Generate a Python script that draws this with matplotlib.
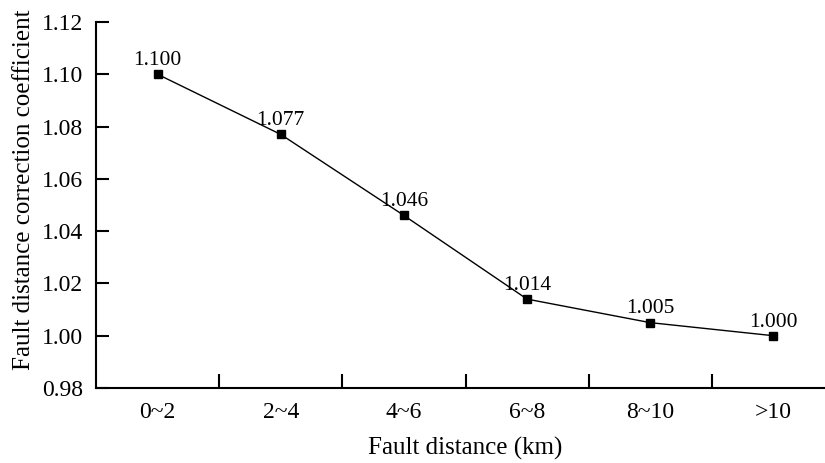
import matplotlib
matplotlib.use("Agg")
import matplotlib.pyplot as plt
from matplotlib.ticker import FixedLocator

categories = ["0~2", "2~4", "4~6", "6~8", "8~10", ">10"]
values = [1.100, 1.077, 1.046, 1.014, 1.005, 1.000]
value_labels = ["1.100", "1.077", "1.046", "1.014", "1.005", "1.000"]
yticks = [0.98, 1.00, 1.02, 1.04, 1.06, 1.08, 1.10, 1.12]
ytick_labels = ["0.98", "1.00", "1.02", "1.04", "1.06", "1.08", "1.10", "1.12"]

plt.rcParams['font.family'] = ['Liberation Serif', 'DejaVu Serif']

W, H = 825, 463
fig = plt.figure(figsize=(W / 100, H / 100), dpi=100)
left, right, top, bottom = 96, 835, 22, 388
ax = fig.add_axes([left / W, (H - bottom) / H, (right - left) / W, (bottom - top) / H])

x = list(range(len(categories)))
ax.plot(x, values, color='black', lw=1.0, marker='s', markersize=6,
        markerfacecolor='black', markeredgecolor='black')
for xi, v, lab in zip(x, values, value_labels):
    ax.annotate(lab, (xi, v), xytext=(0, 3), textcoords='offset points',
                ha='center', va='bottom', fontsize=15.5)

ax.set_xlim(-0.5, len(categories) - 0.5)
ax.set_ylim(0.98, 1.12)
ax.set_xticks(x)
ax.set_xticklabels(categories, fontsize=17)
ax.xaxis.set_minor_locator(FixedLocator([i + 0.5 for i in range(len(categories) - 1)]))
ax.tick_params(axis='x', which='major', length=0, pad=10)
ax.tick_params(axis='x', which='minor', direction='in', length=10, width=1.5)
ax.set_yticks(yticks)
ax.set_yticklabels(ytick_labels, fontsize=17)
ax.tick_params(axis='y', direction='in', length=9, width=1.5, pad=9)

for s in ['top', 'right']:
    ax.spines[s].set_visible(False)
for s in ['left', 'bottom']:
    ax.spines[s].set_linewidth(1.5)

ax.set_xlabel("Fault distance (km)", fontsize=18, labelpad=10)
ax.set_ylabel("Fault distance correction coefficient", fontsize=18)
ax.yaxis.set_label_coords(-0.0825, 0.541)

fig.savefig("out.png", dpi=100)
